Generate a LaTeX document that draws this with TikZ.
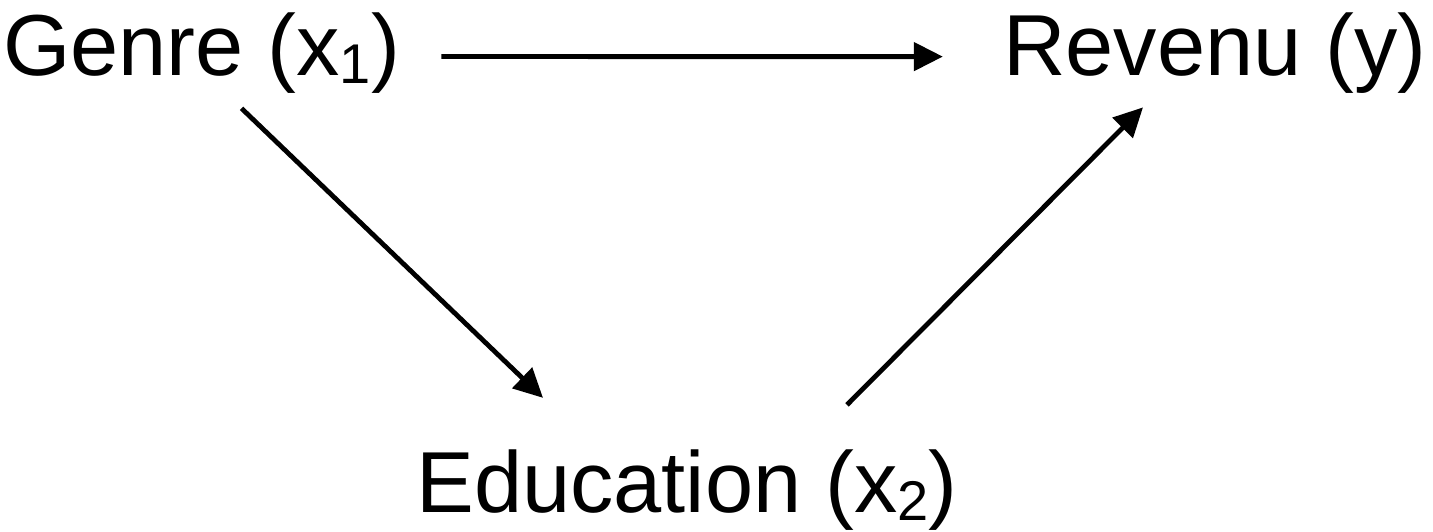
\documentclass[tikz,border=0pt]{standalone}
\usepackage{fontspec}
\setmainfont{Liberation Sans}
\usetikzlibrary{arrows.meta, positioning, calc}

\newcommand{\idx}[1]{\raisebox{-0.1em}{\fontsize{28pt}{28pt}\selectfont #1}}

\begin{document}
\begin{tikzpicture}[
    x=0.5pt, y=-0.5pt,
    >={Triangle[length=14.5pt, width=14pt]},
    var/.style={inner sep=0pt, anchor=base, font=\fontsize{43.3pt}{52pt}\selectfont},
    link/.style={draw, ->, line width=2.4pt}
  ]
  \useasboundingbox (0,0) rectangle (1433,531);

  \node[var] (genre) at (201.5,75) {Genre (x\idx{1})};
  \node[var] (revenu) at (1215,75) {Revenu (y)};
  \node[var] (educ) at (687,512) {Education (x\idx{2})};

  \draw[link] ([shift={(41,4)}]genre.east) -- ([shift={(-60,4)}]revenu.west);
  \draw[link] ([shift={(40,15)}]genre.south) -- ([shift={(-144,-51)}]educ.north);
  \draw[link] ([shift={(160,-44)}]educ.north) -- ([shift={(-72,14)}]revenu.south);
\end{tikzpicture}
\end{document}
